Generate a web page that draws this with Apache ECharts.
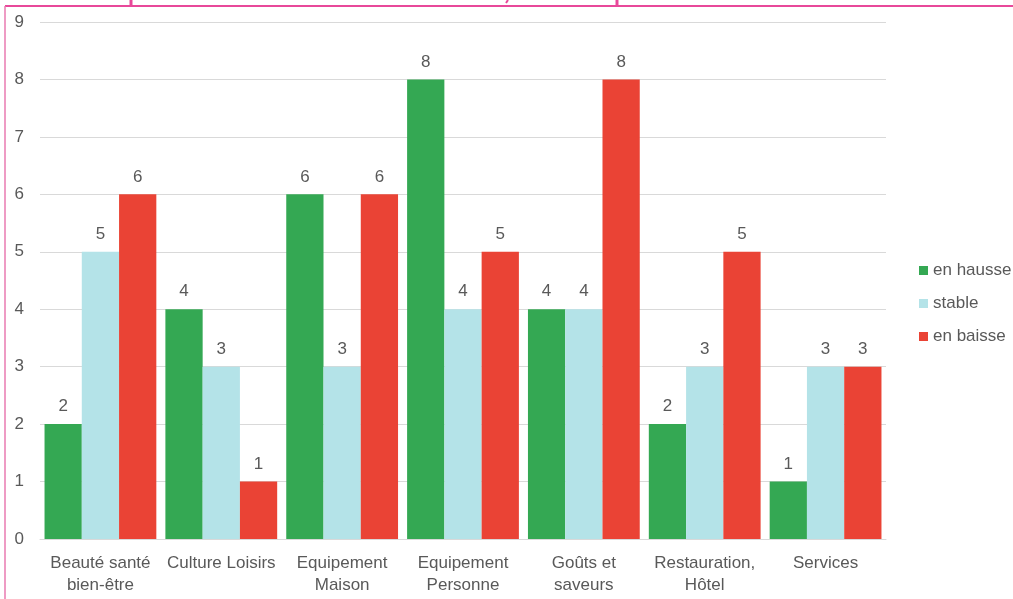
<!DOCTYPE html>
<html><head><meta charset="utf-8">
<script src="https://cdn.jsdelivr.net/npm/echarts@6/dist/echarts.min.js"></script>
<style>html,body{margin:0;padding:0;background:#fff}#c{width:1013px;height:599px}</style>
</head><body><div id="c"></div>
<script>
const categories = ['Beauté santé\nbien-être', 'Culture Loisirs', 'Equipement\nMaison', 'Equipement\nPersonne', 'Goûts et\nsaveurs', 'Restauration,\nHôtel', 'Services'];
const enHausse = [2, 4, 6, 8, 4, 2, 1];
const stable = [5, 3, 3, 4, 4, 3, 3];
const enBaisse = [6, 1, 6, 5, 8, 5, 3];
const yTicks = [0, 9, 1];

const font = 'Liberation Sans, Arial, sans-serif';
const chart = echarts.init(document.getElementById('c'));
function mk(name, data, color) {
  return {
    name, type: 'bar', data, barGap: '0%', barCategoryGap: '7.5%',
    itemStyle: { color },
    label: { show: true, position: 'top', distance: 9, color: '#595959', fontSize: 17, fontFamily: font }
  };
}
chart.setOption({
  animation: false,
  textStyle: { fontFamily: font },
  grid: { left: 40, right: 127, top: 22, bottom: 60, containLabel: false },
  legend: {
    orient: 'vertical', left: 914, top: 257, itemWidth: 9, itemHeight: 9, itemGap: 16,
    icon: 'rect', textStyle: { color: '#595959', fontSize: 17, fontFamily: font },
    data: ['en hausse', 'stable', 'en baisse']
  },
  xAxis: {
    type: 'category', data: categories,
    axisLine: { lineStyle: { color: '#d9d9d9' } }, axisTick: { show: false },
    axisLabel: { color: '#595959', fontSize: 17, fontFamily: font, margin: 13, lineHeight: 22, interval: 0 }
  },
  yAxis: {
    type: 'value', min: yTicks[0], max: yTicks[1], interval: yTicks[2],
    axisLine: { show: false }, axisTick: { show: false },
    axisLabel: { color: '#595959', fontSize: 17, fontFamily: font, margin: 16 },
    splitLine: { lineStyle: { color: '#d9d9d9' } }
  },
  graphic: [
    { type: 'line', shape: { x1: 5, y1: 6, x2: 1013, y2: 6 }, style: { stroke: '#e8489a', lineWidth: 2 } },
    { type: 'line', shape: { x1: 5, y1: 6, x2: 5, y2: 599 }, style: { stroke: '#e87ab0', lineWidth: 1.5 } },
    { type: 'line', shape: { x1: 131, y1: 0, x2: 131, y2: 6 }, style: { stroke: '#e8489a', lineWidth: 3 } },
    { type: 'line', shape: { x1: 617, y1: 0, x2: 617, y2: 6 }, style: { stroke: '#e8489a', lineWidth: 3 } },
    { type: 'line', shape: { x1: 508, y1: 0, x2: 506, y2: 3 }, style: { stroke: '#e8489a', lineWidth: 2 } }
  ],
  series: [
    mk('en hausse', enHausse, '#34a853'),
    mk('stable', stable, '#b4e3e8'),
    mk('en baisse', enBaisse, '#ea4335')
  ]
});
</script></body></html>
